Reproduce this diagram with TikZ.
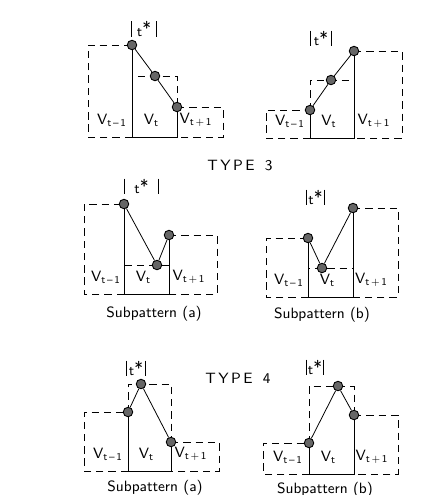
\documentclass[tikz,border=0pt]{standalone}
\usetikzlibrary{calc}

\begin{document}
\begin{tikzpicture}[x=0.2mm,y=-0.2mm,
  valbox/.style={dash pattern=on 4.2pt off 2.8pt,line width=0.5pt},
  stem/.style={line width=0.45pt},
  dot/.style={circle,draw=black,fill=black!60,line width=0.5pt,inner sep=0pt,minimum size=1.9mm},
  lbl/.style={font=\sffamily\fontsize{8.5}{10}\selectfont,inner sep=0pt},
  starlbl/.style={font=\sffamily\fontsize{8}{9}\selectfont,inner sep=0pt,minimum height=2.8mm}]

\useasboundingbox (0,0) rectangle (422,495);

% One panel per row of values:
% n / box left / left stem / right stem / box right / base / three levels / middle x / t* label
\foreach \n/\L/\a/\b/\R/\base/\ha/\hb/\hc/\mx/\sx/\sy/\sw in {
  1/88/132/177/223/137/45/76/107/155/144/29/24,
  2/266/310/354/402/138/110/80/51/331/321/38.5/20,
  3/84/124/169/217/294/204/265/235/157/141.5/186.5/33,
  4/266/308/353/398/297/238/268/208/322/315.5/197.5/17,
  5/84/128/171/219/471/412/384/442/141/136/368.5/18,
  6/263/309/354/398/474/443/386/415/338/315/367.5/16}
{
  % dashed value boxes
  \draw[valbox] (\a,\base) -- (\L,\base) -- (\L,\ha) -- (\a,\ha);
  \draw[valbox] (\a,\ha) -- (\a,\hb) -- (\b,\hb) -- (\b,\hc);
  \draw[valbox] (\b,\hc) -- (\R,\hc) -- (\R,\base) -- (\b,\base);

  % solid stems and base
  \draw[stem] (\a,\ha) -- (\a,\base) -- (\b,\base) -- (\b,\hc);

  % the three points and their line
  \node[dot] (p\n-1) at (\a,\ha) {};
  \node[dot] (p\n-2) at (\mx,\hb) {};
  \node[dot] (p\n-3) at (\b,\hc) {};
  \draw[stem] (p\n-1) -- (p\n-2) -- (p\n-3);

  % value labels
  \node[lbl] (v\n-1) at ({(\L+\a)/2+2},\base-17) {V\textsubscript{t\,--\,1}};
  \node[lbl] (v\n-2) at ({(\a+\b)/2-3},\base-17) {V\textsubscript{t}};
  \node[lbl] (v\n-3) at ({(\b+\R)/2-4},\base-17) {V\textsubscript{t\,+\,1}};

  % |t*| mark
  \node[starlbl,minimum width=\sw*0.2mm] (s\n) at (\sx,\sy)
    {t\raisebox{0.25ex}{\fontsize{10}{10}\selectfont *}};
  \draw[stem] (s\n.north west) -- (s\n.south west);
  \draw[stem] (s\n.north east) -- (s\n.south east);
}

% Titles
\node[lbl] (type3) at (240,165) {T\,Y\,P\,E\ \ 3};
\node[lbl] (type4) at (238,378) {T\,Y\,P\,E\ \ 4};
\node[lbl] (suba1) at (154,314) {Subpattern (a)};
\node[lbl] (subb1) at (322,315) {Subpattern (b)};
\node[lbl] (suba2) at (155,488) {Subpattern (a)};
\node[lbl] (subb2) at (325,490) {Subpattern (b)};

\end{tikzpicture}
\end{document}
